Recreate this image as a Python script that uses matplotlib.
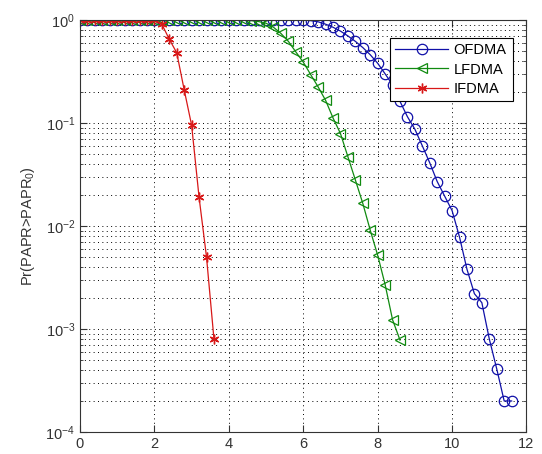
import numpy as np
import matplotlib
matplotlib.use("Agg")
import matplotlib.pyplot as plt
from matplotlib.ticker import LogLocator, LogFormatterMathtext, NullFormatter

plt.rcParams['font.family'] = ['Liberation Sans', 'DejaVu Sans']
plt.rcParams['mathtext.fontset'] = 'custom'
plt.rcParams['mathtext.rm'] = 'Liberation Sans'
plt.rcParams['mathtext.it'] = 'Liberation Sans'

# ---- data ----
x_ofdma = [0.0, 0.2, 0.4, 0.6, 0.8, 1.0, 1.2, 1.4, 1.6, 1.8, 2.0, 2.2, 2.4, 2.6, 2.8,
           3.0, 3.2, 3.4, 3.6, 3.8, 4.0, 4.2, 4.4, 4.6, 4.8, 5.0, 5.2, 5.4, 5.6, 5.8,
           6.0, 6.2, 6.4, 6.6, 6.8, 7.0, 7.2, 7.4, 7.6, 7.8, 8.0, 8.2, 8.4, 8.6, 8.8,
           9.0, 9.2, 9.4, 9.6, 9.8, 10.0, 10.2, 10.4, 10.6, 10.8, 11.0, 11.2, 11.4, 11.6]
y_ofdma = [1.0, 1.0, 1.0, 1.0, 1.0, 1.0, 1.0, 1.0, 1.0, 1.0, 1.0, 1.0, 1.0, 1.0, 1.0,
           1.0, 1.0, 1.0, 1.0, 1.0, 1.0, 1.0, 1.0, 1.0, 1.0, 1.0, 1.0, 1.0, 1.0, 0.999,
           0.997, 0.985, 0.96, 0.91, 0.85, 0.78, 0.70, 0.62, 0.54, 0.46, 0.38, 0.30,
           0.235, 0.162, 0.115, 0.087, 0.060, 0.041, 0.027, 0.0195, 0.0141, 0.0078,
           0.0038, 0.0022, 0.0018, 0.00080, 0.00041, 0.00020, 0.00020]

x_lfdma = [0.0, 0.2, 0.4, 0.6, 0.8, 1.0, 1.2, 1.4, 1.6, 1.8, 2.0, 2.2, 2.4, 2.6, 2.8,
           3.0, 3.2, 3.4, 3.6, 3.8, 4.0, 4.2, 4.4, 4.6, 4.8, 5.0, 5.2, 5.4, 5.6, 5.8,
           6.0, 6.2, 6.4, 6.6, 6.8, 7.0, 7.2, 7.4, 7.6, 7.8, 8.0, 8.2, 8.4, 8.6]
y_lfdma = [1.0, 1.0, 1.0, 1.0, 1.0, 1.0, 1.0, 1.0, 1.0, 1.0, 1.0, 1.0, 1.0, 1.0, 1.0,
           1.0, 1.0, 1.0, 1.0, 1.0, 1.0, 0.999, 0.995, 0.985, 0.965, 0.93, 0.85, 0.74,
           0.62, 0.49, 0.39, 0.295, 0.224, 0.166, 0.112, 0.079, 0.047, 0.028, 0.0166,
           0.0091, 0.0052, 0.0027, 0.00123, 0.00078]

x_ifdma = [0.0, 0.2, 0.4, 0.6, 0.8, 1.0, 1.2, 1.4, 1.6, 1.8, 2.0, 2.2, 2.4, 2.6, 2.8,
           3.0, 3.2, 3.4, 3.6]
y_ifdma = [1.0, 1.0, 1.0, 1.0, 1.0, 1.0, 1.0, 1.0, 1.0, 1.0, 0.995, 0.91, 0.65, 0.48,
           0.21, 0.095, 0.019, 0.005, 0.0008]

labels = ['OFDMA', 'LFDMA', 'IFDMA']
x_ticks = [0, 2, 4, 6, 8, 10, 12]

fig = plt.figure(figsize=(5.42, 4.54), dpi=100)
ax = fig.add_axes([0.1476, 0.0485, 0.8238, 0.9075])

ax.semilogy(x_ofdma, y_ofdma, color='#1010a8', lw=0.9, marker='o', ms=7.5,
            mfc='none', mec='#1010a8', mew=0.9, label=labels[0])
ax.semilogy(x_lfdma, y_lfdma, color='#108a10', lw=0.9, marker='<', ms=7.5,
            mfc='none', mec='#108a10', mew=0.9, label=labels[1])
ax.semilogy(x_ifdma, y_ifdma, color='#d81818', lw=0.9, marker=(6, 2, 0), ms=7,
            mfc='#d81818', mec='#d81818', mew=1.0, label=labels[2])

ax.set_xlim(0, 12)
ax.set_ylim(1e-4, 1)
ax.set_xticks(x_ticks)
ax.yaxis.set_major_locator(LogLocator(base=10, numticks=10))
ax.yaxis.set_major_formatter(LogFormatterMathtext())
ax.yaxis.set_minor_locator(LogLocator(base=10, subs=np.arange(2, 10), numticks=10))
ax.yaxis.set_minor_formatter(NullFormatter())

grid_style = dict(linestyle=(0, (1, 3.5)), color='k', lw=0.7)
ax.grid(True, which='major', axis='both', **grid_style)
ax.grid(True, which='minor', axis='y', **grid_style)
ax.tick_params(which='both', direction='in', top=True, right=True, labelsize=10.5,
               colors='#333333')
ax.tick_params(which='major', length=5)
ax.tick_params(which='minor', length=2.5)
for s in ax.spines.values():
    s.set_color('#333333')
    s.set_linewidth(0.8)

ax.set_ylabel('Pr(PAPR>PAPR$_0$)', fontsize=10.5, color='#333333', labelpad=6)

leg = ax.legend(loc='upper right', fontsize=10.5, handlelength=3.6, fancybox=False,
                framealpha=1, edgecolor='k', borderpad=0.4, labelspacing=0.35,
                handletextpad=0.4, bbox_to_anchor=(0.985, 0.975))
leg.get_frame().set_linewidth(0.8)

fig.savefig('out.png', dpi=100)
